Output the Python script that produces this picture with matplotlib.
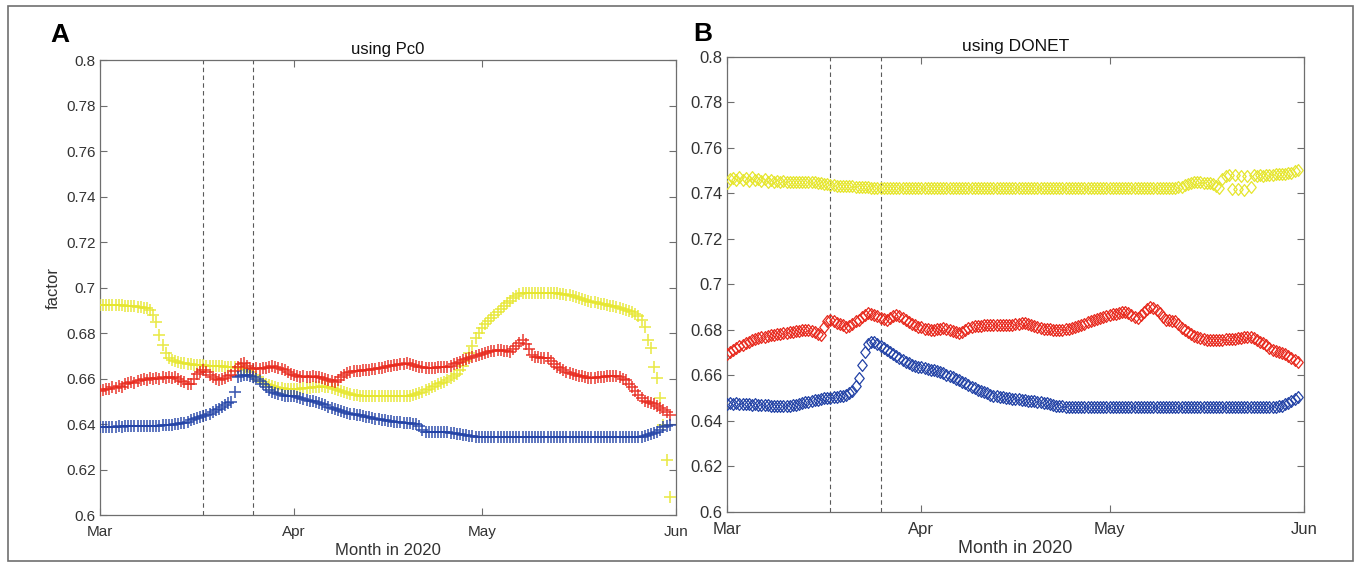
import numpy as np
import matplotlib.pyplot as plt
from matplotlib.patches import Rectangle
from matplotlib.path import Path

# days since 1 March 2020, sampled every 12 h
days = np.arange(0, 91.5, 0.5)

month_ticks = [0, 31, 61, 92]
month_labels = ['Mar', 'Apr', 'May', 'Jun']
y_ticks = [0.6, 0.62, 0.64, 0.66, 0.68, 0.7, 0.72, 0.74, 0.76, 0.78, 0.8]
y_labels = ['0.6', '0.62', '0.64', '0.66', '0.68', '0.7', '0.72', '0.74', '0.76', '0.78', '0.8']
event_days = [16.5, 24.5]

# panel A, using Pc0
pc0_yellow = [
    0.6924, 0.6925, 0.6923, 0.6924, 0.6922, 0.6923, 0.6921, 0.6921, 0.6920, 0.6919,
    0.6918, 0.6917, 0.6915, 0.6914, 0.6912, 0.6909, 0.6900, 0.6880, 0.6850, 0.6790,
    0.6747, 0.6712, 0.6692, 0.6683, 0.6677, 0.6673, 0.6670, 0.6668, 0.6665, 0.6663,
    0.6661, 0.6660, 0.6659, 0.6658, 0.6657, 0.6656, 0.6655, 0.6655, 0.6654, 0.6653,
    0.6652, 0.6651, 0.6650, 0.6649, 0.6647, 0.6645, 0.6641, 0.6636, 0.6628, 0.6617,
    0.6605, 0.6595, 0.6586, 0.6578, 0.6571, 0.6566, 0.6562, 0.6559, 0.6557, 0.6556,
    0.6556, 0.6555, 0.6556, 0.6555, 0.6556, 0.6557, 0.6558, 0.6559, 0.6561, 0.6563,
    0.6564, 0.6565, 0.6564, 0.6562, 0.6558, 0.6553, 0.6548, 0.6543, 0.6539, 0.6535,
    0.6532, 0.6529, 0.6527, 0.6525, 0.6524, 0.6523, 0.6523, 0.6522, 0.6522, 0.6522,
    0.6522, 0.6522, 0.6522, 0.6523, 0.6523, 0.6523, 0.6523, 0.6524, 0.6524, 0.6525,
    0.6527, 0.6530, 0.6535, 0.6541, 0.6548, 0.6555, 0.6562, 0.6568, 0.6574, 0.6580,
    0.6586, 0.6593, 0.6601, 0.6610, 0.6621, 0.6637, 0.6655, 0.6678, 0.6712, 0.6745,
    0.6778, 0.6802, 0.6820, 0.6838, 0.6853, 0.6867, 0.6880, 0.6894, 0.6906, 0.6918,
    0.6930, 0.6942, 0.6954, 0.6964, 0.6971, 0.6975, 0.6976, 0.6977, 0.6977, 0.6977,
    0.6977, 0.6977, 0.6977, 0.6977, 0.6976, 0.6976, 0.6975, 0.6973, 0.6971, 0.6968,
    0.6965, 0.6961, 0.6957, 0.6953, 0.6949, 0.6945, 0.6941, 0.6938, 0.6935, 0.6932,
    0.6929, 0.6926, 0.6923, 0.6920, 0.6917, 0.6914, 0.6910, 0.6906, 0.6902, 0.6897,
    0.6891, 0.6884, 0.6874, 0.6857, 0.6828, 0.6769, 0.6733, 0.6652, 0.6601, 0.6513,
    0.6396, 0.6242, 0.6080,
]
pc0_red = [
    0.6545, 0.6549, 0.6556, 0.6553, 0.6562, 0.6558, 0.6566, 0.6563, 0.6574, 0.6580,
    0.6585, 0.6579, 0.6590, 0.6594, 0.6598, 0.6593, 0.6601, 0.6597, 0.6603, 0.6600,
    0.6605, 0.6601, 0.6606, 0.6603, 0.6605, 0.6598, 0.6590, 0.6583, 0.6578, 0.6576,
    0.6600, 0.6620, 0.6630, 0.6637, 0.6628, 0.6615, 0.6605, 0.6597, 0.6593, 0.6598,
    0.6604, 0.6610, 0.6615, 0.6632, 0.6652, 0.6662, 0.6667, 0.6655, 0.6647, 0.6643,
    0.6647, 0.6644, 0.6646, 0.6645, 0.6650, 0.6653, 0.6652, 0.6648, 0.6642, 0.6637,
    0.6630, 0.6622, 0.6615, 0.6611, 0.6608, 0.6610, 0.6608, 0.6606, 0.6609, 0.6607,
    0.6608, 0.6603, 0.6598, 0.6592, 0.6587, 0.6586, 0.6595, 0.6605, 0.6616, 0.6626,
    0.6630, 0.6632, 0.6634, 0.6635, 0.6636, 0.6637, 0.6639, 0.6641, 0.6643, 0.6645,
    0.6647, 0.6650, 0.6653, 0.6656, 0.6659, 0.6661, 0.6664, 0.6666, 0.6667, 0.6664,
    0.6660, 0.6656, 0.6652, 0.6649, 0.6647, 0.6646, 0.6647, 0.6648, 0.6649, 0.6650,
    0.6651, 0.6652, 0.6656, 0.6662, 0.6668, 0.6674, 0.6680, 0.6685, 0.6690, 0.6696,
    0.6700, 0.6704, 0.6707, 0.6711, 0.6715, 0.6719, 0.6723, 0.6725, 0.6724, 0.6722,
    0.6720, 0.6718, 0.6730, 0.6745, 0.6758, 0.6769, 0.6752, 0.6728, 0.6705, 0.6696,
    0.6694, 0.6692, 0.6690, 0.6688, 0.6676, 0.6664, 0.6652, 0.6645, 0.6637, 0.6630,
    0.6625, 0.6620, 0.6616, 0.6612, 0.6609, 0.6606, 0.6603, 0.6601, 0.6603, 0.6605,
    0.6607, 0.6608, 0.6609, 0.6610, 0.6611, 0.6611, 0.6606, 0.6600, 0.6594, 0.6578,
    0.6562, 0.6545, 0.6528, 0.6515, 0.6503, 0.6496, 0.6491, 0.6487, 0.6481, 0.6472,
    0.6462, 0.6451, 0.6440,
]
pc0_blue = [
    0.6388, 0.6387, 0.6388, 0.6389, 0.6388, 0.6389, 0.6390, 0.6389, 0.6390, 0.6390,
    0.6391, 0.6390, 0.6391, 0.6392, 0.6391, 0.6392, 0.6393, 0.6392, 0.6393, 0.6393,
    0.6394, 0.6394, 0.6395, 0.6396, 0.6398, 0.6400, 0.6403, 0.6406, 0.6411, 0.6416,
    0.6422, 0.6427, 0.6432, 0.6436, 0.6440, 0.6445, 0.6452, 0.6460, 0.6466, 0.6474,
    0.6482, 0.6491, 0.6497, 0.6542, 0.6605, 0.6613, 0.6615, 0.6616, 0.6613, 0.6608,
    0.6600, 0.6588, 0.6575, 0.6562, 0.6550, 0.6541, 0.6535, 0.6530, 0.6527, 0.6525,
    0.6524, 0.6523, 0.6521, 0.6517, 0.6513, 0.6510, 0.6506, 0.6502, 0.6499, 0.6497,
    0.6493, 0.6488, 0.6482, 0.6476, 0.6470, 0.6466, 0.6462, 0.6457, 0.6453, 0.6449,
    0.6446, 0.6443, 0.6440, 0.6438, 0.6435, 0.6432, 0.6429, 0.6427, 0.6424, 0.6421,
    0.6419, 0.6417, 0.6415, 0.6413, 0.6411, 0.6410, 0.6408, 0.6406, 0.6405, 0.6403,
    0.6402, 0.6400, 0.6390, 0.6372, 0.6366, 0.6366, 0.6366, 0.6365, 0.6365, 0.6364,
    0.6364, 0.6363, 0.6362, 0.6360, 0.6358, 0.6355, 0.6352, 0.6350, 0.6348, 0.6347,
    0.6345, 0.6345, 0.6345, 0.6345, 0.6345, 0.6345, 0.6345, 0.6345, 0.6345, 0.6345,
    0.6345, 0.6345, 0.6345, 0.6345, 0.6345, 0.6345, 0.6345, 0.6345, 0.6345, 0.6345,
    0.6345, 0.6345, 0.6345, 0.6345, 0.6345, 0.6345, 0.6345, 0.6345, 0.6345, 0.6345,
    0.6345, 0.6345, 0.6345, 0.6345, 0.6345, 0.6345, 0.6345, 0.6345, 0.6345, 0.6345,
    0.6345, 0.6345, 0.6345, 0.6345, 0.6345, 0.6345, 0.6345, 0.6345, 0.6345, 0.6345,
    0.6345, 0.6345, 0.6345, 0.6345, 0.6347, 0.6351, 0.6355, 0.6360, 0.6366, 0.6375,
    0.6385, 0.6391, 0.6396,
]

# panel B, using DONET
donet_yellow = [
    0.7448, 0.7462, 0.7470, 0.7458, 0.7473, 0.7460, 0.7468, 0.7455, 0.7472, 0.7460,
    0.7465, 0.7455, 0.7462, 0.7452, 0.7458, 0.7450, 0.7455, 0.7450, 0.7453, 0.7452,
    0.7452, 0.7451, 0.7452, 0.7451, 0.7450, 0.7452, 0.7450, 0.7449, 0.7451, 0.7447,
    0.7446, 0.7443, 0.7440, 0.7438, 0.7436, 0.7434, 0.7433, 0.7432, 0.7432, 0.7431,
    0.7431, 0.7430, 0.7430, 0.7429, 0.7428, 0.7427, 0.7426, 0.7425, 0.7424, 0.7423,
    0.7423, 0.7422, 0.7423, 0.7422, 0.7423, 0.7422, 0.7422, 0.7422, 0.7422, 0.7422,
    0.7422, 0.7422, 0.7422, 0.7422, 0.7422, 0.7422, 0.7422, 0.7422, 0.7422, 0.7422,
    0.7422, 0.7422, 0.7422, 0.7422, 0.7422, 0.7422, 0.7422, 0.7422, 0.7422, 0.7422,
    0.7422, 0.7422, 0.7422, 0.7422, 0.7422, 0.7422, 0.7422, 0.7422, 0.7422, 0.7422,
    0.7422, 0.7422, 0.7422, 0.7422, 0.7422, 0.7422, 0.7422, 0.7422, 0.7422, 0.7422,
    0.7422, 0.7422, 0.7422, 0.7422, 0.7422, 0.7422, 0.7422, 0.7422, 0.7422, 0.7422,
    0.7422, 0.7422, 0.7422, 0.7422, 0.7422, 0.7422, 0.7422, 0.7422, 0.7422, 0.7422,
    0.7422, 0.7422, 0.7422, 0.7422, 0.7422, 0.7422, 0.7422, 0.7422, 0.7422, 0.7422,
    0.7422, 0.7422, 0.7422, 0.7422, 0.7422, 0.7422, 0.7422, 0.7422, 0.7422, 0.7422,
    0.7422, 0.7422, 0.7423, 0.7424, 0.7427, 0.7430, 0.7436, 0.7442, 0.7447, 0.7450,
    0.7452, 0.7449, 0.7446, 0.7444, 0.7445, 0.7440, 0.7432, 0.7423, 0.7465, 0.7478,
    0.7481, 0.7420, 0.7480, 0.7418, 0.7478, 0.7415, 0.7479, 0.7430, 0.7481, 0.7476,
    0.7482, 0.7478, 0.7481, 0.7483, 0.7480, 0.7484, 0.7485, 0.7487, 0.7486, 0.7489,
    0.7492, 0.7498, 0.7503,
]
donet_red = [
    0.6695, 0.6702, 0.6712, 0.6720, 0.6728, 0.6735, 0.6742, 0.6749, 0.6755, 0.6760,
    0.6765, 0.6768, 0.6771, 0.6774, 0.6777, 0.6779, 0.6782, 0.6784, 0.6786, 0.6788,
    0.6791, 0.6793, 0.6795, 0.6797, 0.6799, 0.6800, 0.6801, 0.6797, 0.6790, 0.6783,
    0.6778, 0.6812, 0.6840, 0.6844, 0.6838, 0.6831, 0.6825, 0.6820, 0.6815, 0.6818,
    0.6828, 0.6838, 0.6846, 0.6856, 0.6866, 0.6873, 0.6870, 0.6865, 0.6860, 0.6854,
    0.6849, 0.6845, 0.6852, 0.6860, 0.6865, 0.6862, 0.6852, 0.6843, 0.6835, 0.6828,
    0.6820, 0.6815, 0.6811, 0.6806, 0.6803, 0.6800, 0.6801, 0.6803, 0.6805, 0.6807,
    0.6804, 0.6799, 0.6794, 0.6789, 0.6785, 0.6790, 0.6798, 0.6807, 0.6815, 0.6817,
    0.6818, 0.6819, 0.6820, 0.6821, 0.6822, 0.6822, 0.6821, 0.6822, 0.6822, 0.6822,
    0.6823, 0.6824, 0.6826, 0.6828, 0.6829, 0.6829, 0.6826, 0.6822, 0.6817, 0.6812,
    0.6808, 0.6806, 0.6804, 0.6803, 0.6802, 0.6801, 0.6800, 0.6800, 0.6803, 0.6806,
    0.6809, 0.6813, 0.6816, 0.6822, 0.6828, 0.6833, 0.6838, 0.6844, 0.6849, 0.6854,
    0.6859, 0.6862, 0.6866, 0.6869, 0.6872, 0.6875, 0.6877, 0.6880, 0.6874, 0.6866,
    0.6857, 0.6854, 0.6866, 0.6880, 0.6893, 0.6902, 0.6897, 0.6888, 0.6874, 0.6858,
    0.6846, 0.6842, 0.6840, 0.6838, 0.6825, 0.6810, 0.6798, 0.6789, 0.6781, 0.6774,
    0.6768, 0.6763, 0.6760, 0.6758, 0.6757, 0.6756, 0.6756, 0.6757, 0.6758, 0.6759,
    0.6760, 0.6761, 0.6762, 0.6764, 0.6766, 0.6768, 0.6770, 0.6771, 0.6765, 0.6757,
    0.6749, 0.6742, 0.6732, 0.6722, 0.6713, 0.6706, 0.6702, 0.6698, 0.6693, 0.6687,
    0.6677, 0.6667, 0.6660,
]
donet_blue = [
    0.6476, 0.6478, 0.6475, 0.6477, 0.6474, 0.6476, 0.6473, 0.6475, 0.6472, 0.6474,
    0.6471, 0.6472, 0.6469, 0.6470, 0.6467, 0.6465, 0.6466, 0.6464, 0.6466, 0.6465,
    0.6467, 0.6469, 0.6472, 0.6476, 0.6479, 0.6482, 0.6485, 0.6488, 0.6491, 0.6494,
    0.6497, 0.6499, 0.6501, 0.6503, 0.6505, 0.6507, 0.6509, 0.6512, 0.6516, 0.6522,
    0.6530, 0.6552, 0.6590, 0.6645, 0.6705, 0.6740, 0.6748, 0.6746, 0.6740, 0.6731,
    0.6722, 0.6713, 0.6704, 0.6695, 0.6686, 0.6676, 0.6666, 0.6659, 0.6653, 0.6646,
    0.6642, 0.6639, 0.6636, 0.6633, 0.6629, 0.6626, 0.6622, 0.6618, 0.6614, 0.6609,
    0.6604, 0.6598, 0.6592, 0.6585, 0.6579, 0.6572, 0.6566, 0.6558, 0.6551, 0.6543,
    0.6536, 0.6531, 0.6526, 0.6521, 0.6516, 0.6512, 0.6509, 0.6506, 0.6504, 0.6501,
    0.6500, 0.6498, 0.6497, 0.6495, 0.6493, 0.6492, 0.6490, 0.6488, 0.6486, 0.6484,
    0.6482, 0.6480, 0.6478, 0.6476, 0.6472, 0.6468, 0.6465, 0.6464, 0.6463, 0.6463,
    0.6463, 0.6463, 0.6463, 0.6463, 0.6463, 0.6463, 0.6463, 0.6463, 0.6463, 0.6463,
    0.6463, 0.6463, 0.6463, 0.6463, 0.6463, 0.6463, 0.6463, 0.6463, 0.6463, 0.6463,
    0.6463, 0.6463, 0.6463, 0.6463, 0.6463, 0.6463, 0.6463, 0.6463, 0.6463, 0.6463,
    0.6463, 0.6463, 0.6463, 0.6463, 0.6463, 0.6463, 0.6463, 0.6463, 0.6463, 0.6463,
    0.6463, 0.6463, 0.6463, 0.6463, 0.6463, 0.6463, 0.6463, 0.6463, 0.6463, 0.6463,
    0.6463, 0.6463, 0.6463, 0.6463, 0.6463, 0.6463, 0.6463, 0.6463, 0.6463, 0.6463,
    0.6463, 0.6463, 0.6463, 0.6463, 0.6463, 0.6463, 0.6465, 0.6468, 0.6474, 0.6481,
    0.6489, 0.6498, 0.6507,
]

YELLOW = '#e6e62e'
RED = '#e8291d'
BLUE = '#2242a6'
AXCOL = '#6e6e6e'
TXTCOL = '#333333'

# MATLAB-like diamond, a bit taller than wide
diamond = Path([(0, 1), (0.8, 0), (0, -1), (-0.8, 0), (0, 1)],
               [Path.MOVETO, Path.LINETO, Path.LINETO, Path.LINETO, Path.CLOSEPOLY])

plt.rcParams['font.family'] = ['Liberation Sans', 'DejaVu Sans']

fig = plt.figure(figsize=(13.56, 5.62), dpi=100)
axA = fig.add_axes([0.0737, 0.0836, 0.4248, 0.8096])
axB = fig.add_axes([0.5361, 0.0890, 0.4255, 0.8096])


def style_axes(ax, size):
    ax.set_xlim(0, 92)
    ax.set_ylim(0.6, 0.8)
    ax.set_xticks(month_ticks)
    ax.set_xticklabels(month_labels, fontsize=size, color=TXTCOL)
    ax.set_yticks(y_ticks)
    ax.set_yticklabels(y_labels, fontsize=size, color=TXTCOL)
    ax.tick_params(direction='in', length=5, width=0.8, color=AXCOL,
                   top=True, right=True)
    ax.tick_params(axis='x', pad=7)
    ax.tick_params(axis='y', pad=3)
    for s in ax.spines.values():
        s.set_color(AXCOL)
        s.set_linewidth(0.9)
    for d in event_days:
        ax.axvline(d, color='#5a5a5a', ls=(0, (4, 3)), lw=0.8, zorder=1)
    ax.set_xlabel('Month in 2020', fontsize=size + 1, color=TXTCOL)
    ax.xaxis.set_label_coords(0.5, -0.062)


# panel A
for vals, col in [(pc0_yellow, YELLOW), (pc0_red, RED), (pc0_blue, BLUE)]:
    axA.plot(days, vals, ls='none', marker='+', ms=8, mew=1.2, color=col, alpha=0.85, zorder=3)
style_axes(axA, 11)
axA.set_title('using Pc0', fontsize=12, color='#111111', pad=4)
axA.set_ylabel('factor', fontsize=12, color=TXTCOL)
axA.yaxis.set_label_coords(-0.068, 0.5)

# panel B
for vals, col in [(donet_yellow, YELLOW), (donet_red, RED), (donet_blue, BLUE)]:
    axB.plot(days, vals, ls='none', marker=diamond, ms=8.5, mew=0.9,
             mfc='none', mec=col, zorder=3)
style_axes(axB, 12)
axB.set_title('using DONET', fontsize=12.5, color='#111111', pad=4)

fig.text(50 / 1356, 1 - 42 / 562, 'A', fontsize=19, fontweight='bold', color='black')
fig.text(693 / 1356, 1 - 41 / 562, 'B', fontsize=19, fontweight='bold', color='black')

fig.patches.append(Rectangle((8 / 1356, 0.002), 1345 / 1356, 1 - 6 / 562 - 0.002,
                             transform=fig.transFigure, fill=False,
                             edgecolor='#707070', lw=1.2))

fig.savefig('out.png', dpi=100)
